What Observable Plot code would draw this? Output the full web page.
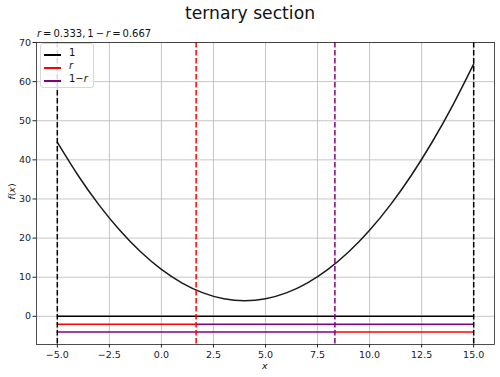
<!DOCTYPE html>
<html><head><meta charset="utf-8">
<script src="https://cdn.jsdelivr.net/npm/d3@7"></script>
<script src="https://cdn.jsdelivr.net/npm/@observablehq/plot@0.6"></script>
<style>
body{margin:0;background:#fff;font-family:"DejaVu Sans",sans-serif;color:#111;}
#wrap{position:relative;width:500px;height:377px;overflow:hidden;}
#chart{position:absolute;left:0;top:0;}
.t{position:absolute;z-index:2;white-space:nowrap;}
#title{left:150px;width:200px;top:3px;text-align:center;font-size:17.2px;}
#sub{left:37px;top:28px;font-size:10px;}
#ylab{left:3px;top:186px;font-size:9.5px;transform:rotate(-90deg);transform-origin:center;}
#xlab{left:262px;top:360px;font-size:9.5px;}
#legend{left:40px;top:43px;width:52px;height:43px;border:1px solid #d8d8d8;border-radius:3px;background:rgba(255,255,255,0.85);font-size:10px;}
.row{position:absolute;left:3px;height:12px;width:48px;}
.sw{position:absolute;left:0;top:6px;width:17px;height:2px;}
.lb{position:absolute;left:25px;top:-1px;}
</style></head><body>
<div id="wrap">
  <div id="chart"></div>
  <div class="t" id="title">ternary section</div>
  <div class="t" id="sub"><i>r</i>&#8201;=&#8201;0.333,&#8201;1&#8201;−&#8201;<i>r</i>&#8201;=&#8201;0.667</div>
  <div class="t" id="ylab"><i>f</i>(<i>x</i>)</div>
  <div class="t" id="xlab"><i>x</i></div>
  <div class="t" id="legend"></div>
</div>
<script>
// parabola
const curveX = [-5,-4,-3,-2,-1,0,1,2,3,4,5,6,7,8,9,10,11,12,13,14,15];
const curveY = [44.5,36,28.5,22,16.5,12,8.5,6,4.5,4,4.5,6,8.5,12,16.5,22,28.5,36,44.5,54,64.5];

// vertical dashed section lines
const sectionX = [-5, 1.667, 8.333, 15];
const sectionColor = ["black", "red", "purple", "black"];

// horizontal segments
const segX1 = [-5, -5, 1.667, -5, 8.333];
const segX2 = [15, 1.667, 15, 8.333, 15];
const segY = [0, -2, -2, -4, -4];
const segColor = ["black", "red", "purple", "purple", "red"];

// legend
const legendLabels = ["1", "<i>r</i>", "1\u2212<i>r</i>"];
const legendColors = ["black", "red", "purple"];

// ticks
const xTicks = [-5, -2.5, 0, 2.5, 5, 7.5, 10, 12.5, 15];
const yTicks = [0, 10, 20, 30, 40, 50, 60, 70];

const curve = curveX.map((x, i) => ({x, y: curveY[i]}));
const sections = sectionX.map((x, i) => ({x, c: sectionColor[i]}));
const segs = segY.map((y, i) => ({x1: segX1[i], x2: segX2[i], y, c: segColor[i]}));

const chart = Plot.plot({
  width: 500, height: 377,
  marginLeft: 36, marginRight: 6, marginTop: 42, marginBottom: 33,
  x: {domain: [-6, 16]},
  y: {domain: [-7.2, 70]},
  color: {type: "identity"},
  style: {fontFamily: "DejaVu Sans", fontSize: "9.5px", color: "#222", background: "white"},
  marks: [
    Plot.ruleX(xTicks, {stroke: "#b8b8b8", strokeWidth: 0.8}),
    Plot.ruleY(yTicks, {stroke: "#b8b8b8", strokeWidth: 0.8}),
    Plot.line(curve, {x: "x", y: "y", stroke: "#1a1a1a", strokeWidth: 1.5, curve: "natural"}),
    Plot.ruleY(segs, {y: "y", x1: "x1", x2: "x2", stroke: "c", strokeWidth: 1.5}),
    Plot.ruleX(sections, {x: "x", stroke: "c", strokeWidth: 1.5, strokeDasharray: "5.5,2.5"}),
    Plot.axisX({ticks: xTicks, tickFormat: d3.format(".1f"), tickSize: 3.5, tickPadding: 3, label: null}),
    Plot.axisY({ticks: yTicks, tickSize: 3.5, tickPadding: 2, label: null}),
    Plot.frame({stroke: "#222", strokeWidth: 0.8})
  ]
});
document.getElementById("chart").appendChild(chart);

const lg = document.getElementById("legend");
legendLabels.forEach((l, i) => {
  const r = document.createElement("div");
  r.className = "row";
  r.style.top = (4 + i * 13) + "px";
  const sw = document.createElement("div");
  sw.className = "sw";
  sw.style.backgroundColor = legendColors[i];
  const lb = document.createElement("div");
  lb.className = "lb";
  lb.innerHTML = l;
  r.appendChild(sw);
  r.appendChild(lb);
  lg.appendChild(r);
});
</script>
</body></html>
